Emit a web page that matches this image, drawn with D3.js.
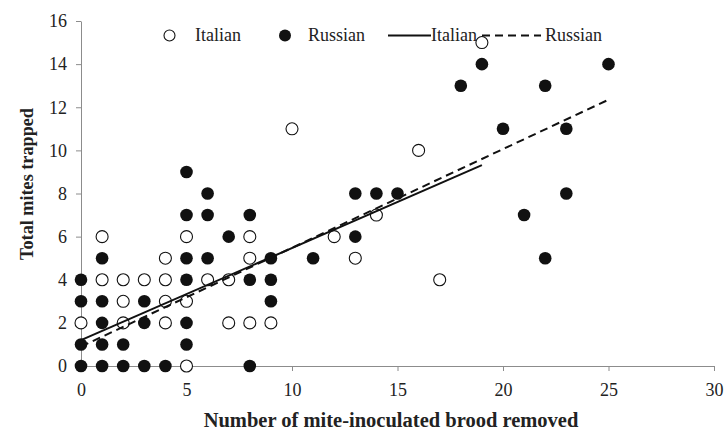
<!DOCTYPE html>
<html>
<head>
<meta charset="utf-8">
<script src="https://cdn.jsdelivr.net/npm/d3@7"></script>
<style>
  body { margin: 0; background: #fff; }
  .axis path, .axis line { stroke: #8c8c8c; }
</style>
</head>
<body>
<script>
// [brood removed, mites trapped]
var italianPts = [[0,2],[1,6],[1,4],[2,4],[2,3],[2,2],[3,4],[4,5],[4,4],[4,3],[4,2],
  [5,6],[5,3],[5,0],[6,4],[7,4],[7,2],[8,6],[8,5],[8,2],[9,2],[10,11],[12,6],[13,5],
  [14,7],[16,10],[17,4],[19,15]];
var russianPts = [[0,4],[0,3],[0,1],[0,0],[1,5],[1,3],[1,2],[1,1],[1,0],[2,1],[2,0],
  [3,3],[3,2],[3,0],[4,0],[5,9],[5,7],[5,5],[5,4],[5,2],[5,1],[6,8],[6,7],[6,5],[7,6],
  [8,7],[8,4],[8,0],[9,5],[9,4],[9,3],[11,5],[13,8],[13,6],[14,8],[15,8],[18,13],
  [19,14],[20,11],[21,7],[22,13],[22,5],[23,11],[23,8],[25,14]];
// trend lines: [intercept, slope, last x]
var italianFit = [1.2, 0.427, 19];
var russianFit = [0.9, 0.458, 25];
var xTicks = [0, 5, 10, 15, 20, 25, 30];
var yTicks = [0, 2, 4, 6, 8, 10, 12, 14, 16];

var FONT = "Liberation Serif";
var W = 724, H = 431;
var m = {top: 21, right: 10, bottom: 65, left: 81};

var svg = d3.select("body").append("svg")
    .attr("width", W).attr("height", H)
    .attr("font-family", FONT);

var x = d3.scaleLinear().domain([0, 30]).range([m.left, W - m.right]);
var y = d3.scaleLinear().domain([0, 16]).range([H - m.bottom, m.top]);

svg.append("g").attr("class", "axis")
    .attr("transform", "translate(0," + y(0) + ")")
    .call(d3.axisBottom(x).tickValues(xTicks).tickSize(5).tickPadding(12).tickSizeOuter(0))
    .attr("font-family", FONT).attr("font-size", 18);

svg.append("g").attr("class", "axis")
    .attr("transform", "translate(" + x(0) + ",0)")
    .call(d3.axisLeft(y).tickValues(yTicks).tickSize(5).tickPadding(9).tickSizeOuter(0))
    .attr("font-family", FONT).attr("font-size", 18);

svg.selectAll(".axis text").attr("fill", "#222");

svg.append("g").selectAll("circle")
    .data(italianPts)
    .enter().append("circle")
    .attr("cx", function(d) { return x(d[0]); })
    .attr("cy", function(d) { return y(d[1]); })
    .attr("r", 6)
    .attr("fill", "#fff").attr("stroke", "#111").attr("stroke-width", 1.1);

svg.append("g").selectAll("circle")
    .data(russianPts)
    .enter().append("circle")
    .attr("cx", function(d) { return x(d[0]); })
    .attr("cy", function(d) { return y(d[1]); })
    .attr("r", 6.3)
    .attr("fill", "#111");

var line = d3.line()
    .x(function(d) { return x(d[0]); })
    .y(function(d) { return y(d[1]); });

function fitPts(f) { return [[0, f[0]], [f[2], f[0] + f[1] * f[2]]]; }

svg.append("path").datum(fitPts(italianFit))
    .attr("d", line).attr("fill", "none")
    .attr("stroke", "#111").attr("stroke-width", 2);
svg.append("path").datum(fitPts(russianFit))
    .attr("d", line).attr("fill", "none")
    .attr("stroke", "#111").attr("stroke-width", 2).attr("stroke-dasharray", "8,5");

// legend
var lg = svg.append("g").attr("font-size", 18).attr("fill", "#222");
var ly = 35.5;
lg.append("circle").attr("cx", 169.5).attr("cy", ly).attr("r", 5.5)
    .attr("fill", "#fff").attr("stroke", "#111").attr("stroke-width", 1.1);
lg.append("text").attr("x", 195).attr("y", ly + 5.5).text("Italian");
lg.append("circle").attr("cx", 285).attr("cy", ly).attr("r", 6).attr("fill", "#111");
lg.append("text").attr("x", 308).attr("y", ly + 5.5).text("Russian");
lg.append("line").attr("x1", 388).attr("x2", 431).attr("y1", ly).attr("y2", ly)
    .attr("stroke", "#111").attr("stroke-width", 2);
lg.append("text").attr("x", 431).attr("y", ly + 5.5).text("Italian");
lg.append("line").attr("x1", 482).attr("x2", 541).attr("y1", ly).attr("y2", ly)
    .attr("stroke", "#111").attr("stroke-width", 2).attr("stroke-dasharray", "8,5");
lg.append("text").attr("x", 545).attr("y", ly + 5.5).text("Russian");

svg.append("text")
    .attr("x", 391).attr("y", 427).attr("text-anchor", "middle")
    .attr("font-size", 20.5).attr("font-weight", "bold").attr("fill", "#222")
    .text("Number of mite-inoculated brood removed");

svg.append("text")
    .attr("transform", "translate(33,184) rotate(-90)")
    .attr("text-anchor", "middle")
    .attr("font-size", 18.2).attr("font-weight", "bold").attr("fill", "#222")
    .text("Total mites trapped");
</script>
</body>
</html>
